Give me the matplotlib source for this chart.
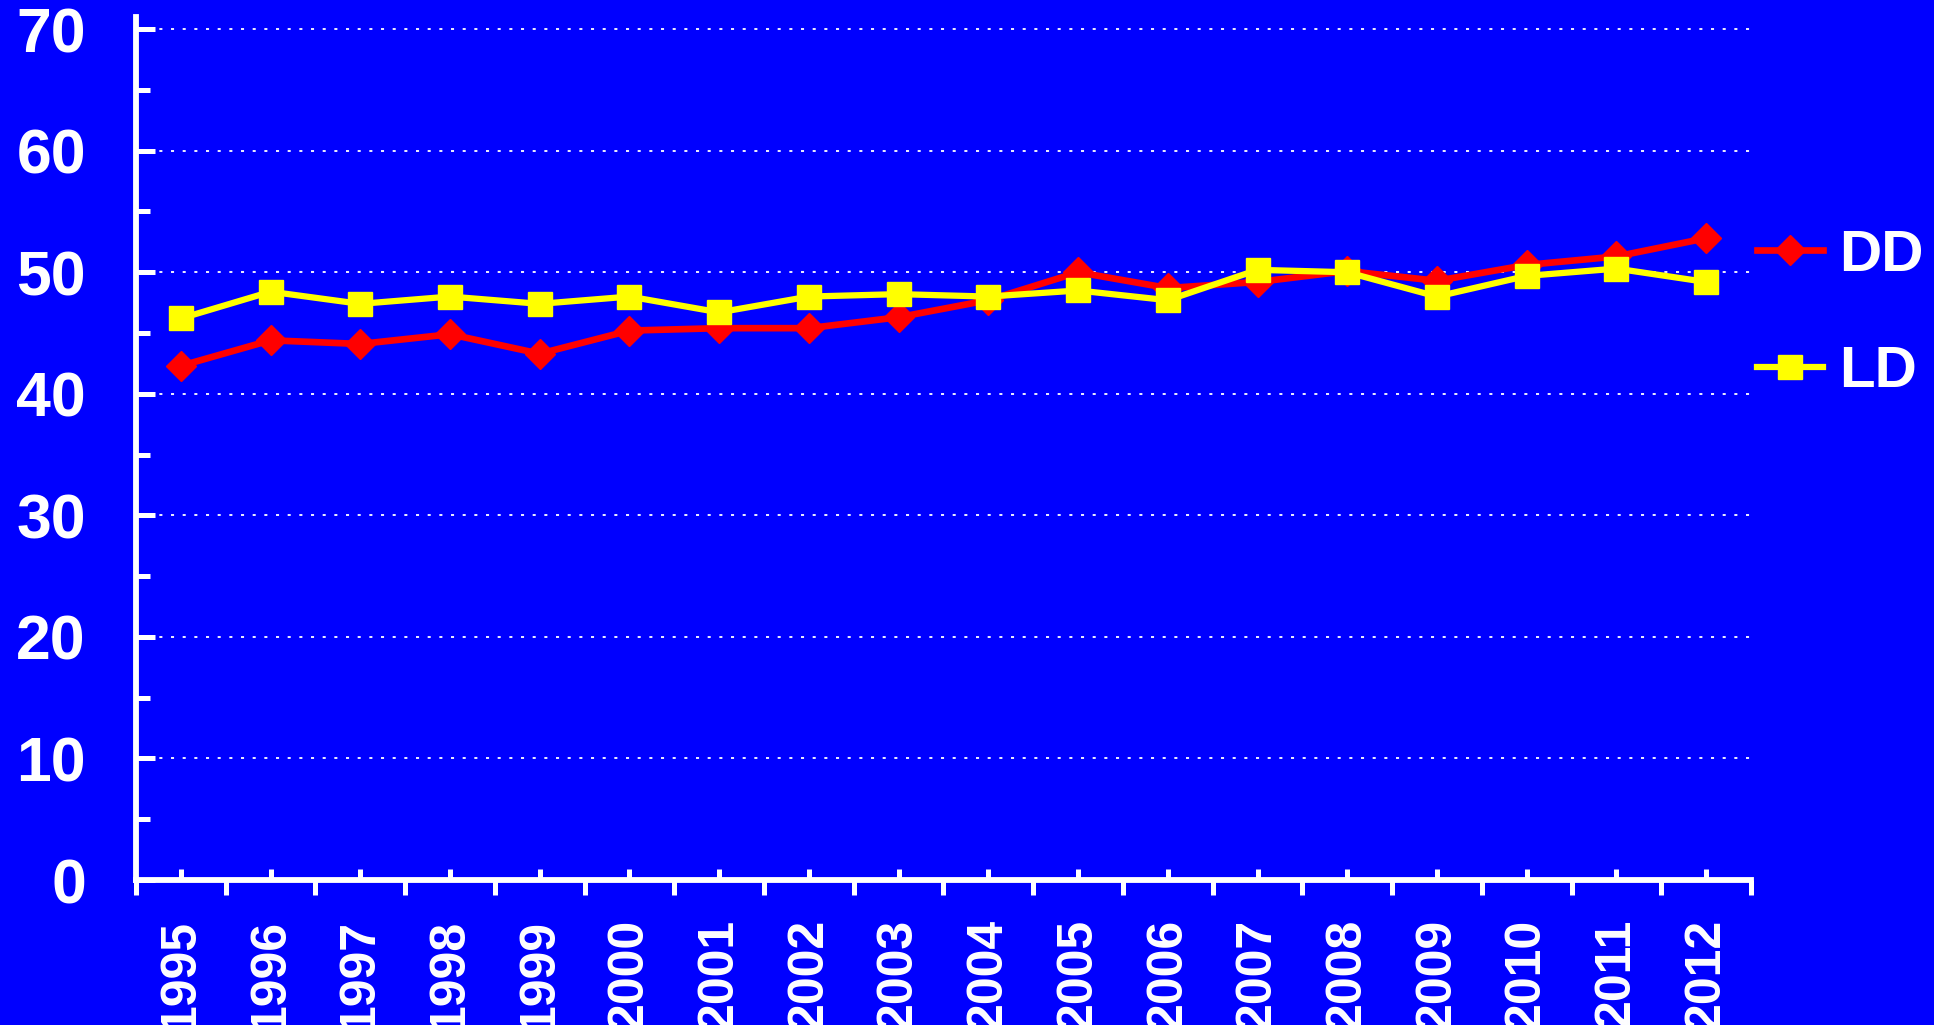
import matplotlib
matplotlib.use("Agg")
import matplotlib.pyplot as plt
from matplotlib.ticker import FixedLocator, NullFormatter, FixedFormatter

years = ["1995", "1996", "1997", "1998", "1999", "2000", "2001", "2002", "2003",
         "2004", "2005", "2006", "2007", "2008", "2009", "2010", "2011", "2012"]
dd = [42.3, 44.4, 44.1, 44.9, 43.3, 45.2, 45.4, 45.4, 46.3, 47.7, 50.0, 48.7,
      49.2, 50.1, 49.3, 50.6, 51.3, 52.8]
ld = [46.2, 48.4, 47.4, 48.0, 47.4, 48.0, 46.7, 48.0, 48.2, 48.0, 48.5, 47.7,
      50.2, 50.0, 48.0, 49.7, 50.3, 49.2]
y_ticks = [0, 10, 20, 30, 40, 50, 60, 70]

plt.rcParams['font.family'] = ['Liberation Sans', 'DejaVu Sans']
plt.rcParams['font.weight'] = 'bold'
plt.rcParams['lines.scale_dashes'] = False

BLUE = '#0000FF'
fig = plt.figure(figsize=(19.34, 10.25), dpi=100, facecolor=BLUE)
ax = fig.add_axes([136/1934, 1-880/1025, (1751-136)/1934, (880-17)/1025])
ax.set_facecolor(BLUE)

x = list(range(len(years)))
ax.plot(x, dd, color='#FF0000', lw=4.8, marker='D', ms=15.5, mec='#FF0000',
        mfc='#FF0000', label='DD', zorder=3, solid_joinstyle='miter')
ax.plot(x, ld, color='#FFFF00', lw=4.5, marker='s', ms=17.3, mec='#FFFF00',
        mfc='#FFFF00', label='LD', zorder=4, solid_joinstyle='miter')

ax.set_xlim(-0.5, len(years) - 0.5)
ax.set_ylim(0, 71)

# y axis
ax.yaxis.set_major_locator(FixedLocator(y_ticks))
ax.yaxis.set_minor_locator(FixedLocator([5, 15, 25, 35, 45, 55, 65]))
ax.set_yticklabels([str(v) for v in y_ticks])
ax.tick_params(axis='y', which='major', direction='in', length=14, width=3.6,
               color='white', labelcolor='white', labelsize=45, pad=36)
ax.tick_params(axis='y', which='minor', direction='in', length=10, width=3.6,
               color='white')

# x axis: labels at centers (ticks inward), boundary ticks outward
ax.xaxis.set_major_locator(FixedLocator(x))
ax.xaxis.set_major_formatter(FixedFormatter(years))
ax.xaxis.set_minor_locator(FixedLocator([i - 0.5 for i in range(len(years) + 1)]))
ax.xaxis.set_minor_formatter(NullFormatter())
ax.tick_params(axis='x', which='major', direction='in', length=8, width=3.6,
               color='white', labelcolor='white', labelsize=36, pad=28,
               labelrotation=90)
ax.tick_params(axis='x', which='minor', direction='out', length=11, width=3.6,
               color='white')
for lab in ax.get_xticklabels():
    lab.set_verticalalignment('top')

for s in ['top', 'right']:
    ax.spines[s].set_visible(False)
for s in ['left', 'bottom']:
    ax.spines[s].set_color('white')
    ax.spines[s].set_linewidth(4.2)

ax.yaxis.grid(True, which='major', color='white', lw=1.3,
              linestyle=(0, (2.2, 6.2)), zorder=1)
ax.set_axisbelow(True)

leg = fig.legend(loc='center left', bbox_to_anchor=(1757/1934, 1-314/1025),
                 frameon=False, fontsize=42, handlelength=1.13,
                 handletextpad=0.28, labelspacing=1.07, borderpad=0,
                 borderaxespad=0, markerscale=1.0)
for t in leg.get_texts():
    t.set_color('white')
    t.set_fontweight('bold')

fig.savefig('out.png', dpi=100, facecolor=BLUE)
